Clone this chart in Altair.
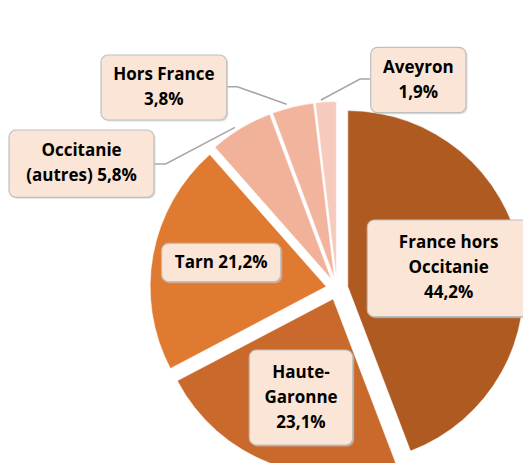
import altair as alt
import pandas as pd

# ---- data ----
categories = ["France hors Occitanie", "Haute-Garonne", "Tarn",
              "Occitanie (autres)", "Hors France", "Aveyron"]
values = [44.2, 23.1, 21.2, 5.8, 3.8, 1.9]
label_texts = ["France hors\nOccitanie\n44,2%", "Haute-\nGaronne\n23,1%", "Tarn 21,2%",
               "Occitanie\n(autres) 5,8%", "Hors France\n3,8%", "Aveyron\n1,9%"]

# ---- styles / layout ----
colors = ["#AE5A21", "#C9692B", "#E07A30", "#F2B29A", "#F2B49D", "#F7CABE"]
W, H = 515, 455
CX, CY = 329, 280.6
R = 176
EXPLODE = 11
LINE_H = 25

# label boxes (x0, x1, y0, y1) in chart pixels
boxes = {
    "France hors Occitanie": (359.3, 522, 212, 308.7),
    "Haute-Garonne": (241.3, 344.7, 342, 437),
    "Tarn": (153.7, 272.7, 235.3, 273.7),
    "Occitanie (autres)": (1, 146, 122, 189.3),
    "Hors France": (93, 218.7, 47, 112),
    "Aveyron": (362.7, 458, 39.3, 104.7),
}
leaders = {
    "Aveyron": [(362, 71), (352, 71), (313, 92)],
    "Hors France": [(219, 78.7), (229.3, 78.7), (278.7, 96.3)],
    "Occitanie (autres)": [(146, 156), (157.7, 156), (227, 119.3)],
}

pie_df = pd.DataFrame({"category": categories, "value": values,
                       "order": list(range(len(categories)))})

box_rows = []
for c, t in zip(categories, label_texts):
    x0, x1, y0, y1 = boxes[c]
    n = t.count("\n") + 1
    box_rows.append({"category": c, "label": t, "x0": x0, "x1": x1, "y0": y0, "y1": y1,
                     "tx": (x0 + x1) / 2,
                     "ty": (y0 + y1) / 2 - (n - 1) * LINE_H / 2})
box_df = pd.DataFrame(box_rows)

line_rows = []
for c, pts in leaders.items():
    for i, (x, y) in enumerate(pts):
        line_rows.append({"category": c, "seq": i, "x": x, "y": y})
line_df = pd.DataFrame(line_rows)

pie = alt.Chart(pie_df).transform_window(
    cum="sum(value)", sort=[alt.SortField("order")], frame=[None, 0]
).transform_joinaggregate(
    total="sum(value)"
).transform_calculate(
    t0="2*PI*(datum.cum - datum.value)/datum.total",
    t1="2*PI*datum.cum/datum.total",
).transform_calculate(
    mid="(datum.t0 + datum.t1)/2"
).transform_calculate(
    px=f"{CX} + {EXPLODE}*sin(datum.mid)",
    py=f"{CY} - {EXPLODE}*cos(datum.mid)",
).mark_arc(outerRadius=R, stroke="white", strokeWidth=0.5).encode(
    theta=alt.Theta("t0:Q", scale=None),
    theta2="t1:Q",
    x=alt.X("px:Q", scale=None),
    y=alt.Y("py:Q", scale=None),
    color=alt.Color("category:N", scale=alt.Scale(domain=categories, range=colors), legend=None),
)

lines = alt.Chart(line_df).mark_line(color="#A6A6A6", strokeWidth=1.5).encode(
    x=alt.X("x:Q", scale=None),
    y=alt.Y("y:Q", scale=None),
    detail="category:N",
    order="seq:Q",
)

shadow = alt.Chart(box_df).transform_calculate(
    sx0="datum.x0 + 1.5", sx1="datum.x1 + 1.5", sy0="datum.y0 + 1.5", sy1="datum.y1 + 1.5"
).mark_rect(cornerRadius=7, fill="#C8C8C8", opacity=0.6).encode(
    x=alt.X("sx0:Q", scale=None), x2="sx1:Q",
    y=alt.Y("sy0:Q", scale=None), y2="sy1:Q",
)

rects = alt.Chart(box_df).mark_rect(cornerRadius=7, fill="#FBE5D6", stroke="#BFBFBF",
                                    strokeWidth=1.2).encode(
    x=alt.X("x0:Q", scale=None), x2="x1:Q",
    y=alt.Y("y0:Q", scale=None), y2="y1:Q",
)

texts = alt.Chart(box_df).mark_text(
    font="Open Sans", fontWeight="bold", fontSize=17, lineHeight=LINE_H,
    lineBreak="\n", align="center", baseline="middle", color="black",
).encode(
    x=alt.X("tx:Q", scale=None),
    y=alt.Y("ty:Q", scale=None),
    text="label:N",
)

chart = alt.layer(pie, lines, shadow, rects, texts).properties(
    width=W, height=H,
    autosize=alt.AutoSizeParams(type="none"),
    padding=0,
    background="white",
).configure_view(stroke=None)

chart.save("out.html", embed_options={"renderer": "svg", "actions": False})
